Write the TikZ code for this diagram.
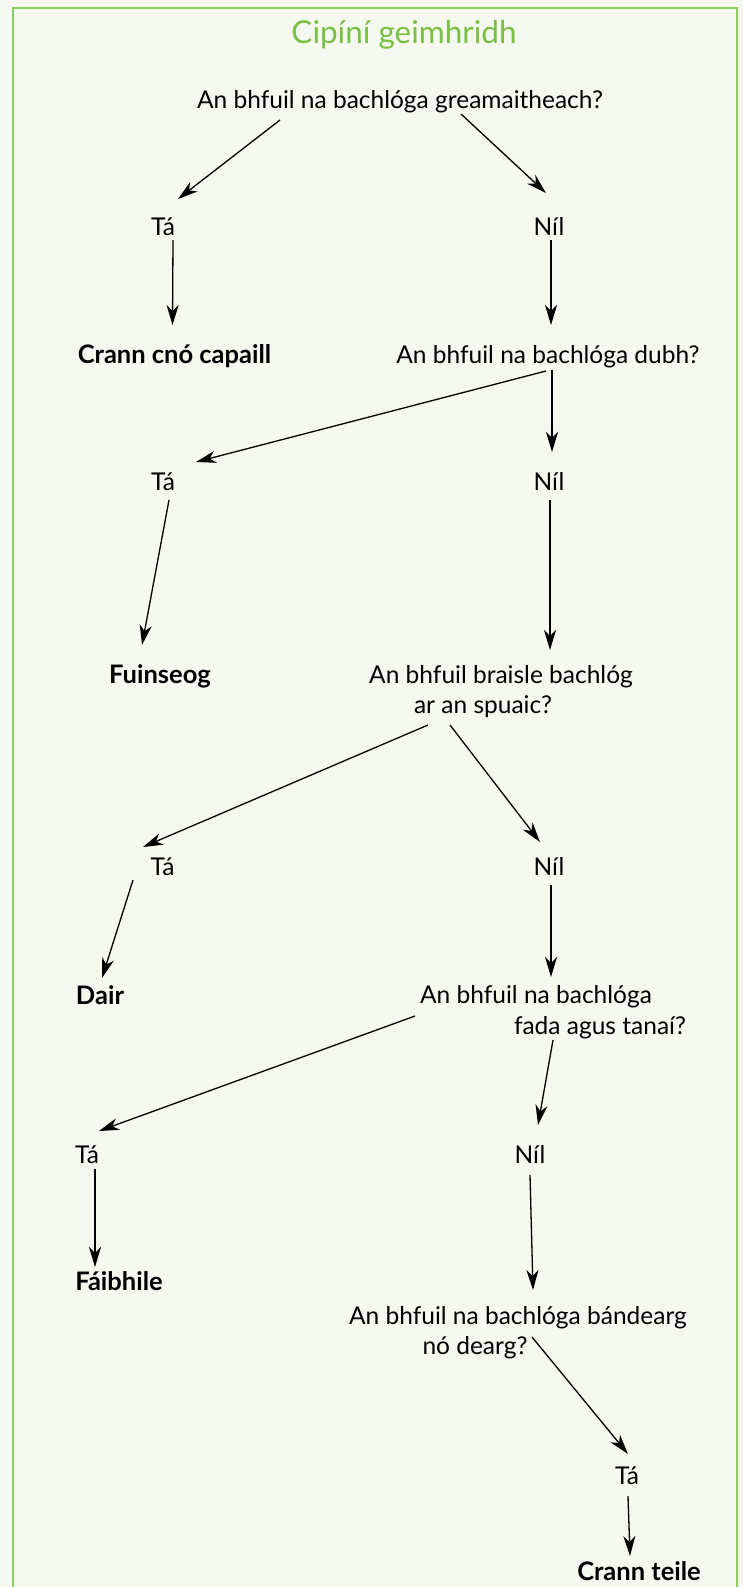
\documentclass[tikz,border=0pt]{standalone}
\usepackage{fontspec}
\setmainfont{Lato}
\usetikzlibrary{arrows.meta,calc}
\definecolor{bg}{HTML}{F5F8EE}
\definecolor{framec}{HTML}{8DCF5C}
\definecolor{ttl}{HTML}{7AC143}
\begin{document}
\begin{tikzpicture}[x=1pt,y=-1pt,
  txt/.style={font=\fontsize{24.5}{29}\selectfont, inner sep=0pt, anchor=base, text=black},
  leaf/.style={font=\fontsize{25.5}{30}\selectfont\bfseries, inner sep=0pt, anchor=base, text=black},
  arr/.style={-{Stealth[length=20pt,width=12pt,inset=6pt]}, line width=1.3pt}]
\fill[bg] (0,0) rectangle (743,1587);
\useasboundingbox (0,0) rectangle (743,1587);
\draw[framec, line width=2.5pt] (13,1595) -- (13,8) -- (737,8) -- (737,1595);
\node[txt, text=ttl, font=\fontsize{31.5}{36}\selectfont] (title) at (404,44) {Cipíní geimhridh};
\node[txt] (q1) at (400,108) {An bhfuil na bachlóga greamaitheach?};
\node[txt] (ta1) at (163,235) {Tá};
\node[txt] (nil1) at (549,235) {Níl};
\node[leaf] (leaf1) at (174.5,363) {Crann cnó capaill};
\node[txt] (q2) at (548,363) {An bhfuil na bachlóga dubh?};
\node[txt] (ta2) at (163,490) {Tá};
\node[txt] (nil2) at (549,490) {Níl};
\node[leaf] (leaf2) at (160,683) {Fuinseog};
\node[txt] (q3a) at (501,683) {An bhfuil braisle bachlóg};
\node[txt] (q3b) at (483,713) {ar an spuaic?};
\node[txt] (ta3) at (162.5,875) {Tá};
\node[txt] (nil3) at (549,875) {Níl};
\node[leaf] (leaf3) at (100,1004) {Dair};
\node[txt] (q4a) at (536,1003) {An bhfuil na bachlóga};
\node[txt] (q4b) at (600,1034) {fada agus tanaí?};
\node[txt] (ta4) at (87,1163) {Tá};
\node[txt] (nil4) at (530,1163) {Níl};
\node[leaf] (leaf4) at (119,1290) {Fáibhile};
\node[txt] (q5a) at (518,1324) {An bhfuil na bachlóga bándearg};
\node[txt] (q5b) at (475,1354) {nó dearg?};
\node[txt] (ta5) at (627,1484) {Tá};
\node[leaf] (leaf5) at (639,1580) {Crann teile};
\draw[arr] ($(q1.base)+(-120,12)$) -- ($(ta1.base)+(15,-36)$);
\draw[arr] ($(q1.base)+(61,6)$) -- ($(nil1.base)+(-3,-42)$);
\draw[arr] ($(ta1.base)+(10,5)$) -- ($(leaf1.base)+(-2,-38)$);
\draw[arr] ($(nil1.base)+(2,5)$) -- ($(q2.base)+(3,-38)$);
\draw[arr] ($(q2.base)+(-2,8)$) -- ($(ta2.base)+(33,-28)$);
\draw[arr] ($(q2.base)+(4,7)$) -- ($(nil2.base)+(3,-38)$);
\draw[arr] ($(ta2.base)+(6,10)$) -- ($(leaf2.base)+(-18,-38)$);
\draw[arr] ($(nil2.base)+(1,10)$) -- ($(q3a.base)+(49,-33)$);
\draw[arr] ($(q3b.base)+(-55,12)$) -- ($(ta3.base)+(-19.5,-28)$);
\draw[arr] ($(q3b.base)+(-33,12)$) -- ($(nil3.base)+(-9,-33)$);
\draw[arr] ($(ta3.base)+(-29.5,5)$) -- ($(leaf3.base)+(2,-26)$);
\draw[arr] ($(nil3.base)+(2,10)$) -- ($(q4a.base)+(15,-26)$);
\draw[arr] ($(q4a.base)+(-121,13)$) -- ($(ta4.base)+(12,-32)$);
\draw[arr] ($(q4b.base)+(-47,6)$) -- ($(nil4.base)+(8,-38)$);
\draw[arr] ($(ta4.base)+(8,6)$) -- ($(leaf4.base)+(-24,-23)$);
\draw[arr] ($(nil4.base)+(0,12)$) -- ($(q5a.base)+(15,-34)$);
\draw[arr] ($(q5b.base)+(57,-17)$) -- ($(ta5.base)+(1,-30)$);
\draw[arr] ($(ta5.base)+(1,12)$) -- ($(leaf5.base)+(-9,-24)$);
\end{tikzpicture}
\end{document}
